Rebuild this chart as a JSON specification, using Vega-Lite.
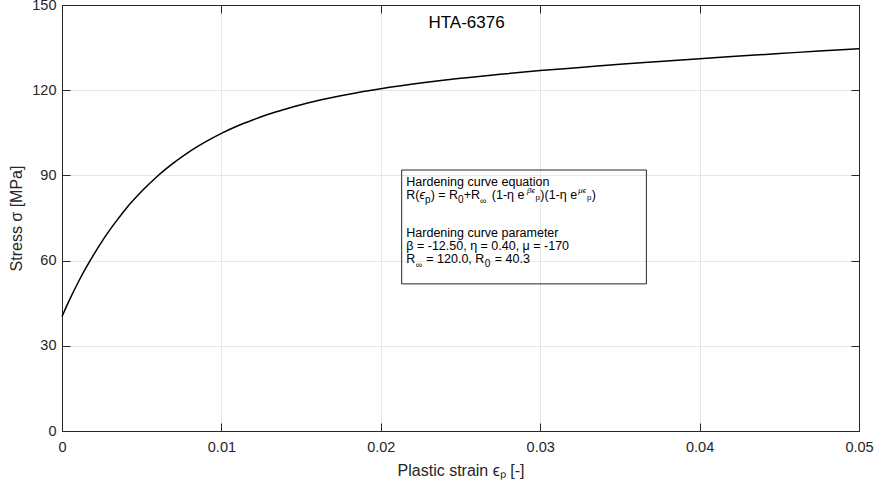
{
  "$schema": "https://vega.github.io/schema/vega-lite/v6.json",
  "width": 797,
  "height": 426,
  "autosize": {"type": "none"},
  "padding": {"left": 62, "top": 5, "right": 17, "bottom": 57},
  "background": "white",
  "config": {
    "view": {"stroke": null},
    "axis": {
      "labelFont": "Liberation Sans",
      "titleFont": "Liberation Sans",
      "labelFontSize": 14.5,
      "titleFontSize": 16,
      "labelColor": "#262626",
      "titleColor": "#262626",
      "domainColor": "#262626",
      "tickColor": "#262626",
      "gridColor": "#e6e6e6",
      "gridOpacity": 1,
      "domainWidth": 1,
      "tickWidth": 1,
      "tickSize": -8,
      "labelFlush": false,
      "titleFontWeight": "normal"
    }
  },
  "title": {
    "text": "HTA-6376",
    "font": "Liberation Sans",
    "fontSize": 17,
    "fontWeight": "normal",
    "color": "#000000",
    "anchor": "middle",
    "frame": "group",
    "offset": -23,
    "baseline": "alphabetic",
    "dx": 6,
    "dy": 25
  },
  "layer": [
    {
      "data": {
        "values": [
          {"strain": 0, "stress": 40.3},
          {"strain": 0.0005, "stress": 46.5},
          {"strain": 0.001, "stress": 52.2},
          {"strain": 0.0015, "stress": 57.4},
          {"strain": 0.002, "stress": 62.2},
          {"strain": 0.0025, "stress": 66.7},
          {"strain": 0.003, "stress": 70.8},
          {"strain": 0.0035, "stress": 74.6},
          {"strain": 0.004, "stress": 78.2},
          {"strain": 0.005, "stress": 84.4},
          {"strain": 0.006, "stress": 89.8},
          {"strain": 0.007, "stress": 94.4},
          {"strain": 0.008, "stress": 98.4},
          {"strain": 0.009, "stress": 101.8},
          {"strain": 0.010, "stress": 104.8},
          {"strain": 0.011, "stress": 107.4},
          {"strain": 0.012, "stress": 109.6},
          {"strain": 0.013, "stress": 111.6},
          {"strain": 0.014, "stress": 113.3},
          {"strain": 0.015, "stress": 114.9},
          {"strain": 0.016, "stress": 116.3},
          {"strain": 0.018, "stress": 118.6},
          {"strain": 0.020, "stress": 120.5},
          {"strain": 0.0225, "stress": 122.5},
          {"strain": 0.025, "stress": 124.2},
          {"strain": 0.0275, "stress": 125.6},
          {"strain": 0.030, "stress": 126.9},
          {"strain": 0.0325, "stress": 128.0},
          {"strain": 0.035, "stress": 129.1},
          {"strain": 0.0375, "stress": 130.1},
          {"strain": 0.040, "stress": 131.1},
          {"strain": 0.0425, "stress": 132.0},
          {"strain": 0.045, "stress": 132.9},
          {"strain": 0.0475, "stress": 133.8},
          {"strain": 0.050, "stress": 134.6}
        ]
      },
      "mark": {"type": "line", "color": "#000000", "strokeWidth": 1.5, "interpolate": "monotone"},
      "encoding": {
        "x": {
          "field": "strain",
          "type": "quantitative",
          "scale": {"domain": [0, 0.05], "nice": false, "zero": false},
          "axis": {
            "orient": "bottom",
            "values": [0, 0.01, 0.02, 0.03, 0.04, 0.05],
            "format": ".2~f",
            "grid": true,
            "labelPadding": 17,
            "title": "Plastic strain ϵₚ [-]",
            "titlePadding": 9
          }
        },
        "y": {
          "field": "stress",
          "type": "quantitative",
          "scale": {"domain": [0, 150], "nice": false, "zero": false},
          "axis": {
            "orient": "left",
            "values": [0, 30, 60, 90, 120, 150],
            "grid": true,
            "labelPadding": 14,
            "title": "Stress σ [MPa]",
            "titlePadding": 7
          }
        }
      }
    },
    {
      "data": {"values": [{}]},
      "mark": {"type": "rect", "fill": null, "fillOpacity": 0, "stroke": "#262626", "strokeWidth": 1},
      "encoding": {
        "x": {"datum": 0.02131, "type": "quantitative", "axis": {"orient": "top", "values": [0, 0.01, 0.02, 0.03, 0.04, 0.05], "labels": false, "grid": false, "title": null}},
        "x2": {"datum": 0.03666},
        "y": {"datum": 91.9, "type": "quantitative", "axis": {"orient": "right", "values": [0, 30, 60, 90, 120, 150], "labels": false, "grid": false, "title": null}},
        "y2": {"datum": 51.8}
      }
    },
    {
      "data": {"values": [{}]},
      "layer": [
        {"mark": {"type": "text", "font": "Liberation Sans", "fontSize": 12.5, "align": "left", "baseline": "alphabetic", "color": "#000000", "dx": 0, "dy": 16}, "encoding": {"text": {"value": "Hardening curve equation"}}},
        {"mark": {"type": "text", "font": "Liberation Sans", "fontSize": 12.5, "align": "left", "baseline": "alphabetic", "color": "#000000", "dx": 0, "dy": 29}, "encoding": {"text": {"value": "R("}}},
        {"mark": {"type": "text", "font": "Liberation Sans", "fontSize": 12.5, "align": "left", "baseline": "alphabetic", "color": "#000000", "dx": 13.2, "dy": 29, "fontStyle": "italic"}, "encoding": {"text": {"value": "ϵ"}}},
        {"mark": {"type": "text", "font": "Liberation Sans", "fontSize": 10, "align": "left", "baseline": "alphabetic", "color": "#000000", "dx": 18.8, "dy": 33}, "encoding": {"text": {"value": "p"}}},
        {"mark": {"type": "text", "font": "Liberation Sans", "fontSize": 12.5, "align": "left", "baseline": "alphabetic", "color": "#000000", "dx": 24.4, "dy": 29}, "encoding": {"text": {"value": ") = R"}}},
        {"mark": {"type": "text", "font": "Liberation Sans", "fontSize": 10, "align": "left", "baseline": "alphabetic", "color": "#000000", "dx": 51.8, "dy": 33}, "encoding": {"text": {"value": "0"}}},
        {"mark": {"type": "text", "font": "Liberation Sans", "fontSize": 12.5, "align": "left", "baseline": "alphabetic", "color": "#000000", "dx": 57.4, "dy": 29}, "encoding": {"text": {"value": "+R"}}},
        {"mark": {"type": "text", "font": "Liberation Sans", "fontSize": 9, "align": "left", "baseline": "alphabetic", "color": "#000000", "dx": 73.7, "dy": 34}, "encoding": {"text": {"value": "∞"}}},
        {"mark": {"type": "text", "font": "Liberation Sans", "fontSize": 12.5, "align": "left", "baseline": "alphabetic", "color": "#000000", "dx": 85.5, "dy": 29}, "encoding": {"text": {"value": "(1-η e"}}},
        {"mark": {"type": "text", "font": "Liberation Sans", "fontSize": 8, "align": "left", "baseline": "alphabetic", "color": "#000000", "dx": 120.6, "dy": 23, "fontStyle": "italic"}, "encoding": {"text": {"value": "βϵ"}}},
        {"mark": {"type": "text", "font": "Liberation Sans", "fontSize": 8, "align": "left", "baseline": "alphabetic", "color": "#000000", "dx": 129.2, "dy": 30}, "encoding": {"text": {"value": "p"}}},
        {"mark": {"type": "text", "font": "Liberation Sans", "fontSize": 12.5, "align": "left", "baseline": "alphabetic", "color": "#000000", "dx": 134.0, "dy": 29}, "encoding": {"text": {"value": ")(1-η e"}}},
        {"mark": {"type": "text", "font": "Liberation Sans", "fontSize": 8, "align": "left", "baseline": "alphabetic", "color": "#000000", "dx": 172.0, "dy": 23, "fontStyle": "italic"}, "encoding": {"text": {"value": "μϵ"}}},
        {"mark": {"type": "text", "font": "Liberation Sans", "fontSize": 8, "align": "left", "baseline": "alphabetic", "color": "#000000", "dx": 180.6, "dy": 30}, "encoding": {"text": {"value": "p"}}},
        {"mark": {"type": "text", "font": "Liberation Sans", "fontSize": 12.5, "align": "left", "baseline": "alphabetic", "color": "#000000", "dx": 185.4, "dy": 29}, "encoding": {"text": {"value": ")"}}},
        {"mark": {"type": "text", "font": "Liberation Sans", "fontSize": 12.5, "align": "left", "baseline": "alphabetic", "color": "#000000", "dx": 0, "dy": 67.3}, "encoding": {"text": {"value": "Hardening curve parameter"}}},
        {"mark": {"type": "text", "font": "Liberation Sans", "fontSize": 12.5, "align": "left", "baseline": "alphabetic", "color": "#000000", "dx": 0, "dy": 80}, "encoding": {"text": {"value": "β = -12.50, η = 0.40, μ = -170"}}},
        {"mark": {"type": "text", "font": "Liberation Sans", "fontSize": 12.5, "align": "left", "baseline": "alphabetic", "color": "#000000", "dx": 0, "dy": 92.5}, "encoding": {"text": {"value": "R"}}},
        {"mark": {"type": "text", "font": "Liberation Sans", "fontSize": 9, "align": "left", "baseline": "alphabetic", "color": "#000000", "dx": 9.5, "dy": 97.5}, "encoding": {"text": {"value": "∞"}}},
        {"mark": {"type": "text", "font": "Liberation Sans", "fontSize": 12.5, "align": "left", "baseline": "alphabetic", "color": "#000000", "dx": 20.0, "dy": 92.5}, "encoding": {"text": {"value": "= 120.0, R"}}},
        {"mark": {"type": "text", "font": "Liberation Sans", "fontSize": 10, "align": "left", "baseline": "alphabetic", "color": "#000000", "dx": 78.5, "dy": 97}, "encoding": {"text": {"value": "0"}}},
        {"mark": {"type": "text", "font": "Liberation Sans", "fontSize": 12.5, "align": "left", "baseline": "alphabetic", "color": "#000000", "dx": 88.5, "dy": 92.5}, "encoding": {"text": {"value": "= 40.3"}}}
      ],
      "encoding": {
        "x": {"datum": 0.0216, "type": "quantitative", "axis": null},
        "y": {"datum": 91.9, "type": "quantitative", "axis": null}
      }
    }
  ],
  "resolve": {"axis": {"x": "independent", "y": "independent"}}
}
